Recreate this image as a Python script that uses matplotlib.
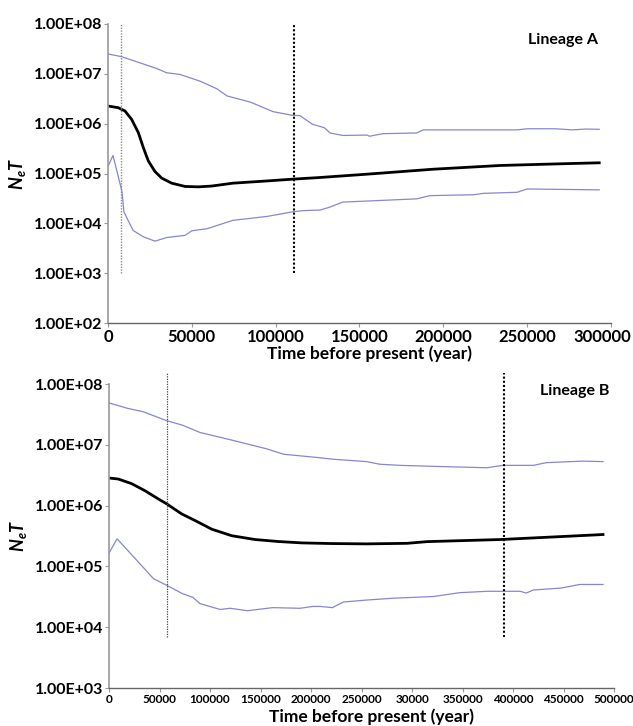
import math
import matplotlib.pyplot as plt
import matplotlib.transforms as mtransforms

plt.rcParams['font.family'] = ['Lato', 'DejaVu Sans']
plt.rcParams['mathtext.fontset'] = 'custom'
plt.rcParams['mathtext.bfit'] = 'Lato:italic:bold'

# Lineage A
a_time = [0, 6100, 10100, 14100, 18100, 21100, 24000, 28000, 32000, 38000, 46000, 53900, 61800,
          74500, 95000, 110000, 126000, 154500, 194000, 234000, 274000, 293000]
a_median = [2.26e6, 2.09e6, 1.8e6, 1.22e6, 6.6e5, 3.3e5, 1.8e5, 1.1e5, 8.1e4, 6.4e4, 5.5e4, 5.4e4, 5.6e4,
            6.4e4, 7.1e4, 7.7e4, 8.3e4, 9.7e4, 1.22e5, 1.45e5, 1.58e5, 1.64e5]
a_up_time = [0, 8300, 19000, 29000, 35000, 43000, 55000, 65000, 71000, 85000, 98500, 110000,
             114500, 122000, 129000, 132500, 140000, 154500, 156000, 164000, 184000, 188000,
             244000, 250000, 267000, 277000, 285000, 293000]
a_upper = [2.5e7, 2.2e7, 1.66e7, 1.28e7, 1.05e7, 9.7e6, 7.1e6, 5e6, 3.6e6, 2.7e6, 1.74e6, 1.47e6,
           1.45e6, 9.7e5, 8.3e5, 6.5e5, 5.8e5, 5.9e5, 5.6e5, 6.3e5, 6.5e5, 7.5e5,
           7.5e5, 7.9e5, 7.9e5, 7.5e5, 7.8e5, 7.7e5]
a_lo_time = [0, 3000, 8300, 9500, 15000, 21000, 28000, 35000, 46000, 50000, 59000, 74500, 95000,
             110000, 116000, 126500, 132000, 140000, 184000, 192000, 218000, 224000, 244000,
             250000, 293000]
a_lower = [1.4e5, 2.3e5, 4.4e4, 1.7e4, 7.2e3, 5.4e3, 4.4e3, 5.2e3, 5.75e3, 7.1e3, 7.8e3, 1.15e4, 1.38e4,
           1.7e4, 1.8e4, 1.85e4, 2.1e4, 2.67e4, 3.1e4, 3.6e4, 3.75e4, 4.0e4, 4.2e4,
           4.9e4, 4.7e4]
a_events = [8000, 111000]

# Lineage B
b_time = [0, 9200, 22400, 35600, 48800, 57100, 72000, 85100, 101700, 121500, 144600, 167600,
          190800, 220000, 255000, 295000, 315000, 387000, 453000, 489000]
b_median = [2.85e6, 2.74e6, 2.3e6, 1.76e6, 1.29e6, 1.07e6, 7.3e5, 5.7e5, 4.1e5, 3.2e5, 2.77e5, 2.57e5,
            2.44e5, 2.38e5, 2.35e5, 2.4e5, 2.56e5, 2.77e5, 3.13e5, 3.35e5]
b_up_time = [0, 18000, 34000, 57000, 73000, 90000, 123000, 156000, 173000, 189000, 206000, 222000,
             255000, 268000, 288000, 328000, 374000, 390000, 420000, 433000, 469000, 489000]
b_upper = [4.9e7, 4.0e7, 3.5e7, 2.5e7, 2.1e7, 1.6e7, 1.18e7, 8.6e6, 7.0e6, 6.6e6, 6.2e6, 5.8e6,
           5.3e6, 4.8e6, 4.6e6, 4.4e6, 4.2e6, 4.6e6, 4.6e6, 5.1e6, 5.4e6, 5.3e6]
b_lo_time = [0, 8000, 24000, 44000, 57000, 73000, 83000, 90000, 110000, 120000, 137000, 162000,
             189000, 202000, 209000, 221000, 232000, 255000, 281000, 321000, 347000, 374000,
             407000, 413000, 420000, 447000, 466000, 489000]
b_lower = [1.65e5, 2.85e5, 1.46e5, 6.3e4, 4.9e4, 3.55e4, 3.1e4, 2.45e4, 1.96e4, 2.05e4, 1.87e4, 2.1e4,
           2.05e4, 2.2e4, 2.2e4, 2.1e4, 2.6e4, 2.8e4, 3.0e4, 3.2e4, 3.7e4, 3.9e4,
           3.9e4, 3.65e4, 4.1e4, 4.4e4, 5.05e4, 5.05e4]
b_events = [57000, 391000]

a_xticks = [0, 50000, 100000, 150000, 200000, 250000, 300000]
a_xlabels = ['0', '50000', '100000', '150000', '200000', '250000', '300000']
a_yticks = [1e2, 1e3, 1e4, 1e5, 1e6, 1e7, 1e8]
b_xticks = [0, 50000, 100000, 150000, 200000, 250000, 300000, 350000, 400000, 450000, 500000]
b_xlabels = ['0', '50000', '100000', '150000', '200000', '250000', '30000', '350000', '400000',
             '450000', '500000']
b_yticks = [1e3, 1e4, 1e5, 1e6, 1e7, 1e8]

blue = '#8686d6'

fig = plt.figure(figsize=(6.33, 7.26), dpi=100)
axA = fig.add_axes([0.1706, 0.555, 0.7946, 0.412])
axB = fig.add_axes([0.1722, 0.0523, 0.798, 0.4187])


def style(ax, xticks, xlabels, yticks, xfs, label_y):
    ax.set_yscale('log')
    ax.set_xticks(xticks)
    ax.set_xticklabels(xlabels, fontsize=xfs, fontweight='bold')
    ax.set_yticks(yticks)
    ax.set_yticklabels(['1.00E+%02d' % round(math.log10(v)) for v in yticks],
                       fontsize=11.5, fontweight='bold')
    ax.minorticks_off()
    for s in ['top', 'right']:
        ax.spines[s].set_visible(False)
    ax.spines['left'].set_color('#999999')
    ax.spines['bottom'].set_color('#666666')
    ax.spines['left'].set_linewidth(1.2)
    ax.spines['bottom'].set_linewidth(1.0)
    ax.tick_params(axis='y', length=3, width=0.8, color='#999999', pad=1)
    ax.tick_params(axis='x', length=3, width=0.8, color='#999999', pad=1)
    ax.set_xlabel('Time before present (year)', fontsize=12.5, fontweight='bold')
    ax.xaxis.set_label_coords(0.52, label_y)
    ax.set_ylabel(r'$\mathbfit{N}_{\mathbfit{e}}\mathbfit{T}$', fontsize=13)


# Panel A
axA.plot(a_up_time, a_upper, color=blue, lw=0.9)
axA.plot(a_lo_time, a_lower, color=blue, lw=0.9)
axA.plot(a_time, a_median, color='black', lw=2)
axA.vlines(a_events[0], 1e3, 1e8, colors='#888888', linestyles=(0, (1, 1)), lw=1.0)
axA.vlines(a_events[1], 1e3, 1e8, colors='black', linestyles=(0, (1, 1)), lw=1.5)
axA.set_xlim(0, 300000)
axA.set_ylim(1e2, 1e8)
style(axA, a_xticks, a_xlabels, a_yticks, 12, -0.074)
axA.text(0.975, 0.97, 'Lineage A', transform=axA.transAxes, ha='right', va='top',
         fontsize=11.5, fontweight='bold')
# last tick label sits at the right edge of the figure
last = axA.get_xticklabels()[-1]
last.set_horizontalalignment('right')
last.set_transform(last.get_transform() + mtransforms.ScaledTranslation(0.2, 0, fig.dpi_scale_trans))

# Panel B
axB.plot(b_up_time, b_upper, color=blue, lw=0.9)
axB.plot(b_lo_time, b_lower, color=blue, lw=0.9)
axB.plot(b_time, b_median, color='black', lw=2)
axB.vlines(b_events[0], 7e3, 1.5e8, colors='#444444', linestyles=(0, (1, 1)), lw=0.9,
           clip_on=False)
axB.vlines(b_events[1], 7e3, 1.5e8, colors='black', linestyles=(0, (1, 1)), lw=1.5,
           clip_on=False)
axB.set_xlim(0, 500000)
axB.set_ylim(1e3, 1e8)
style(axB, b_xticks, b_xlabels, b_yticks, 8.5, -0.068)
axB.text(0.99, 1.0, 'Lineage B', transform=axB.transAxes, ha='right', va='top',
         fontsize=11.5, fontweight='bold')

fig.savefig('out.png', dpi=100)
